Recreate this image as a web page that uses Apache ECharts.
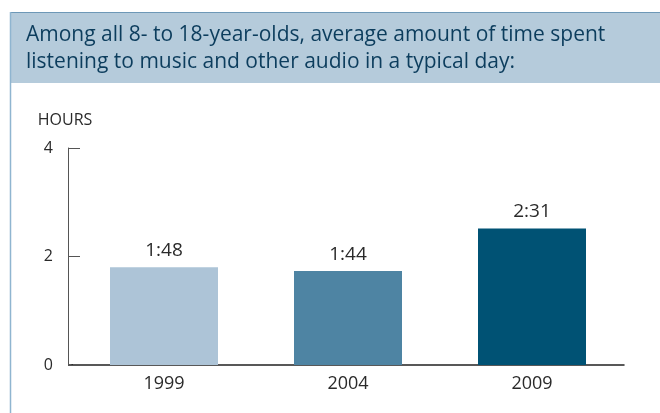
<!DOCTYPE html>
<html>
<head>
<meta charset="utf-8">
<script src="https://cdn.jsdelivr.net/npm/echarts@6/dist/echarts.min.js"></script>
<style>
html,body{margin:0;padding:0;background:#fff;}
#chart{width:660px;height:413px;}
</style>
</head>
<body>
<div id="chart"></div>
<script>
var titleText = 'Among all 8- to 18-year-olds, average amount of time spent\nlistening to music and other audio in a typical day:';
var categories = ['1999', '2004', '2009'];
var hours = [1.8, 1.733, 2.517];
var valueLabels = ['1:48', '1:44', '2:31'];
var barColors = ['#adc4d7', '#4e84a3', '#005274'];
var yTicks = [0, 2, 4];

var chart = echarts.init(document.getElementById('chart'), null, {renderer: 'canvas'});
var FONT = '"Open Sans", "Noto Sans", sans-serif';
chart.setOption({
  animation: false,
  backgroundColor: '#ffffff',
  graphic: [
    {type: 'rect', shape: {x: 10, y: 12, width: 660, height: 71}, style: {fill: '#b5cbdb'}, z: -1},
    {type: 'line', shape: {x1: 10, y1: 12.5, x2: 660, y2: 12.5}, style: {stroke: '#6d98b7', lineWidth: 1}},
    {type: 'line', shape: {x1: 10.5, y1: 12, x2: 10.5, y2: 413}, style: {stroke: '#8fb5d0', lineWidth: 1.5}},
    {type: 'line', shape: {x1: 68, y1: 365, x2: 73, y2: 365}, style: {stroke: '#222', lineWidth: 1.5}}
  ],
  title: {
    text: titleText,
    left: 21,
    top: 17,
    textStyle: {fontFamily: FONT, fontSize: 21, fontWeight: 'normal', color: '#0c3d5d', lineHeight: 27}
  },
  grid: {left: 72, right: 36, top: 148, bottom: 48},
  xAxis: {
    type: 'category',
    data: categories,
    axisLine: {lineStyle: {color: '#222', width: 1.5}},
    axisTick: {show: false},
    axisLabel: {fontFamily: FONT, fontSize: 18, color: '#2a2a2a', margin: 10}
  },
  yAxis: {
    type: 'value',
    min: yTicks[0],
    max: yTicks[yTicks.length - 1],
    interval: yTicks[1] - yTicks[0],
    offset: 4,
    name: 'HOURS',
    nameLocation: 'end',
    nameGap: 20,
    nameTextStyle: {fontFamily: FONT, fontSize: 16, color: '#2a2a2a', align: 'center', padding: [0, 0, 0, -6]},
    axisLine: {show: true, lineStyle: {color: '#555', width: 1}},
    axisTick: {show: true, inside: true, length: 12, lineStyle: {color: '#555', width: 1}},
    axisLabel: {fontFamily: FONT, fontSize: 16, color: '#2a2a2a', margin: 15},
    splitLine: {show: false}
  },
  series: [{
    type: 'bar',
    barWidth: 108,
    data: hours.map(function (v, i) {
      return {value: v, itemStyle: {color: barColors[i]}};
    }),
    label: {
      show: true,
      position: 'top',
      distance: 7,
      fontFamily: FONT,
      fontSize: 19,
      color: '#2a2a2a',
      formatter: function (p) { return valueLabels[p.dataIndex]; }
    }
  }]
});
</script>
</body>
</html>
